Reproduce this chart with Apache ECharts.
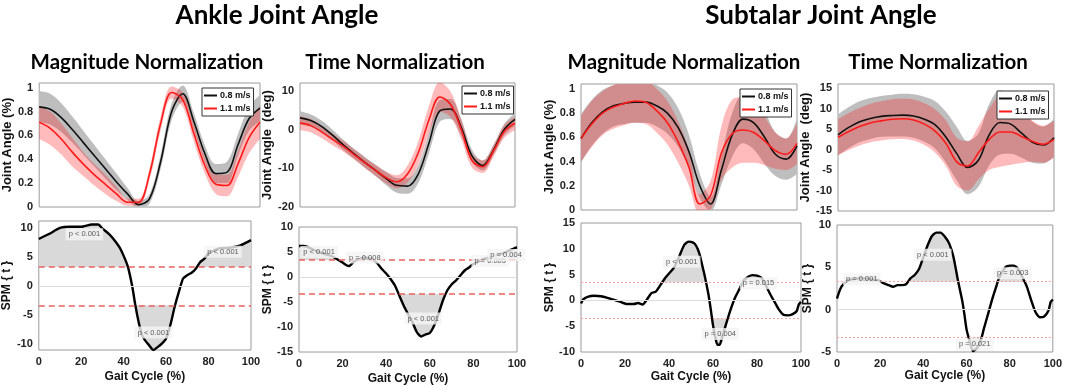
<!DOCTYPE html>
<html>
<head>
<meta charset="utf-8">
<script src="https://cdn.jsdelivr.net/npm/echarts@6/dist/echarts.min.js"></script>
<style>
html, body { margin: 0; padding: 0; background: #fff; }
#main { width: 1065px; height: 387px; }
</style>
</head>
<body>
<div id="main"></div>
<script>
// gait cycle (%) sampling of the mean / SD curves
const gaitX = [0, 5, 10, 15, 20, 25, 30, 35, 40, 45, 50, 55, 60, 65, 70, 75, 80, 85, 90, 95, 100];

// ankle, magnitude normalization (0.8 m/s = slow, 1.1 m/s = fast)
const ankleMagSlow   = [0.84, 0.82, 0.75, 0.65, 0.54, 0.43, 0.32, 0.21, 0.11, 0.02, 0.07, 0.38, 0.80, 0.95, 0.72, 0.45, 0.28, 0.29, 0.52, 0.74, 0.83];
const ankleMagSlowSd = [0.13, 0.13, 0.12, 0.11, 0.10, 0.09, 0.08, 0.07, 0.05, 0.03, 0.04, 0.06, 0.07, 0.07, 0.07, 0.07, 0.08, 0.09, 0.09, 0.10, 0.11];
const ankleMagFast   = [0.71, 0.66, 0.57, 0.46, 0.36, 0.27, 0.19, 0.11, 0.04, 0.04, 0.28, 0.70, 0.96, 0.90, 0.62, 0.35, 0.19, 0.18, 0.36, 0.58, 0.71];
const ankleMagFastSd = [0.14, 0.14, 0.13, 0.12, 0.10, 0.09, 0.08, 0.06, 0.03, 0.03, 0.05, 0.06, 0.05, 0.06, 0.07, 0.07, 0.08, 0.09, 0.11, 0.13, 0.14];

// ankle, time normalization (deg)
const ankleTimeSlow   = [3.0, 2.3, 0.8, -1.4, -3.9, -6.2, -8.4, -10.5, -12.6, -14.4, -14.6, -11.5, -3.5, 4.8, 5.3, 0.5, -6.8, -9.3, -5.3, 0.0, 2.6];
const ankleTimeSlowSd = [1.7, 1.6, 1.5, 1.4, 1.3, 1.3, 1.4, 1.5, 1.7, 1.9, 2.0, 2.3, 2.6, 2.8, 2.6, 2.2, 1.6, 1.3, 1.3, 1.5, 1.6];
const ankleTimeFast   = [1.7, 1.0, -0.6, -2.5, -4.3, -6.4, -8.5, -10.5, -12.4, -13.5, -11.5, -6.0, 2.5, 8.4, 6.5, 0.0, -8.0, -9.6, -5.5, -0.5, 1.6];
const ankleTimeFastSd = [1.8, 1.7, 1.6, 1.5, 1.4, 1.3, 1.3, 1.4, 1.5, 1.7, 2.2, 3.0, 3.6, 3.8, 3.3, 2.5, 1.8, 1.6, 1.5, 1.6, 1.7];

// subtalar, magnitude normalization
const subMagSlow   = [0.59, 0.72, 0.81, 0.86, 0.88, 0.89, 0.89, 0.86, 0.80, 0.68, 0.48, 0.20, 0.05, 0.33, 0.62, 0.75, 0.72, 0.60, 0.46, 0.42, 0.53];
const subMagSlowSd = [0.20, 0.19, 0.18, 0.17, 0.17, 0.17, 0.17, 0.17, 0.17, 0.16, 0.14, 0.10, 0.06, 0.12, 0.18, 0.20, 0.22, 0.22, 0.18, 0.17, 0.23];
const subMagFast   = [0.59, 0.71, 0.80, 0.85, 0.88, 0.90, 0.89, 0.82, 0.72, 0.56, 0.35, 0.05, 0.12, 0.47, 0.63, 0.66, 0.64, 0.57, 0.49, 0.46, 0.55];
const subMagFastSd = [0.19, 0.19, 0.18, 0.18, 0.18, 0.18, 0.18, 0.18, 0.18, 0.17, 0.15, 0.08, 0.12, 0.22, 0.28, 0.27, 0.25, 0.20, 0.15, 0.13, 0.17];

// subtalar, time normalization (deg)
const subTimeSlow   = [3.6, 5.4, 6.8, 7.6, 8.1, 8.3, 8.4, 8.2, 7.4, 6.0, 3.0, -1.0, -4.4, -2.6, 3.6, 6.6, 6.2, 4.0, 1.8, 1.1, 2.9];
const subTimeSlowSd = [5.0, 5.0, 5.0, 5.0, 5.0, 5.1, 5.2, 5.3, 5.5, 5.8, 6.2, 6.5, 6.5, 6.5, 7.5, 7.8, 7.2, 6.0, 5.0, 4.5, 4.6];
const subTimeFast   = [3.0, 4.4, 5.6, 6.5, 7.0, 7.4, 7.5, 7.2, 6.2, 4.5, 1.5, -3.0, -4.0, -0.8, 2.5, 4.3, 4.3, 3.2, 2.0, 1.3, 2.5];
const subTimeFastSd = [4.4, 4.5, 4.6, 4.7, 4.8, 4.9, 4.9, 5.0, 5.1, 5.3, 5.6, 5.9, 6.0, 6.5, 7.5, 8.5, 8.0, 6.5, 5.0, 4.5, 4.5];

// SPM {t} curves
const spmAnkleMagX = [0, 5, 10, 15, 20, 25, 28, 30, 33, 35, 38, 40, 42, 44, 45.5, 47, 48.5, 50, 52, 54, 56, 58, 60, 62, 64, 66, 68, 70, 72, 74, 76, 78, 80, 85, 90, 95, 100];
const spmAnkleMagT = [8.1, 9.0, 10.0, 10.2, 10.2, 10.6, 10.6, 9.9, 9.0, 8.2, 6.7, 5.2, 3.3, 0.0, -3.3, -6.1, -8.3, -9.3, -10.2, -11.0, -10.5, -9.9, -9.0, -6.7, -3.6, -1.0, 1.3, 1.9, 2.3, 3.0, 4.1, 4.7, 5.6, 6.5, 6.6, 7.0, 7.9];

const spmAnkleTimeX = [0, 2, 4, 6, 8, 10, 12, 15, 18, 20, 22, 23, 25, 28, 30, 32, 34, 36, 38, 40, 42, 44, 46, 48, 50, 52, 54, 56, 58, 60, 62, 64, 66, 68, 70, 72, 74, 76, 78, 80, 85, 90, 95, 99, 100];
const spmAnkleTimeT = [6.2, 6.2, 6.0, 5.6, 5.2, 4.9, 4.6, 4.2, 3.4, 2.9, 2.3, 2.2, 3.0, 3.7, 3.9, 3.8, 3.4, 2.7, 1.6, 0.7, -0.4, -1.7, -3.7, -5.7, -7.4, -9.0, -11.0, -11.9, -11.5, -11.2, -9.7, -7.4, -4.7, -2.7, -1.5, -0.7, 0.3, 1.3, 1.9, 2.6, 3.6, 4.2, 5.0, 5.8, 5.9];

const spmSubMagX = [0, 1, 3, 6, 9, 12, 15, 18, 21, 24, 26, 28, 30, 32, 34, 36, 38, 40, 42, 44, 45, 47, 49, 51, 52, 53, 54, 55, 56, 57, 58, 59, 60, 61, 62, 63, 64, 66, 68, 70, 72, 74, 76, 78, 80, 82, 84, 86, 88, 90, 92, 94, 96, 98, 99, 100];
const spmSubMagT = [-0.6, 0.2, 0.7, 0.9, 0.8, 0.5, 0.1, -0.3, -0.7, -0.7, -0.5, -0.8, 0.2, 1.4, 1.7, 2.9, 4.2, 5.2, 6.2, 7.9, 8.9, 10.8, 11.4, 11.2, 10.8, 10.0, 8.8, 7.0, 5.2, 3.2, 1.0, -1.8, -4.8, -7.1, -8.6, -8.6, -7.4, -4.5, -1.8, 0.5, 2.2, 3.9, 4.6, 4.9, 4.8, 4.4, 2.9, 1.2, -0.3, -1.8, -2.8, -2.9, -2.7, -2.1, -0.8, -0.3];

const spmSubTimeX = [0, 1, 2, 4, 5, 7, 10, 13, 16, 19, 21, 24, 26, 28, 30, 32, 34, 36, 38, 40, 42, 44, 46, 48, 50, 52, 54, 56, 58, 59, 60, 61, 63, 65, 67, 68, 70, 72, 74, 75, 78, 80, 82, 84, 86, 88, 90, 92, 94, 96, 98, 99, 100];
const spmSubTimeT = [1.3, 2.1, 2.7, 3.3, 3.5, 3.6, 3.7, 3.7, 3.6, 3.5, 3.2, 2.9, 2.7, 2.9, 2.9, 3.0, 3.7, 4.1, 4.8, 6.2, 7.6, 8.7, 9.1, 9.1, 8.6, 7.8, 6.2, 3.5, 1.1, -0.5, -2.3, -3.3, -4.9, -4.5, -3.3, -2.3, -0.5, 1.3, 2.9, 3.7, 5.0, 5.2, 5.2, 4.8, 3.8, 2.7, 1.1, -0.3, -0.9, -0.8, -0.1, 0.9, 1.2];

// critical thresholds
const spmThresh = [3.3, 3.4, 3.5, 3.3];

// p-value annotations [x, t, text]
const spmAnkleMagLabels  = [[21.5, 8.9, 'p < 0.001'], [54, -8.0, 'p < 0.001'], [86.8, 5.9, 'p < 0.001']];
const spmAnkleTimeLabels = [[9.2, 5.0, 'p < 0.001'], [30.2, 3.9, 'p = 0.008'], [57, -8.3, 'p < 0.001'], [87.7, 3.2, 'p = 0.005'], [95, 4.4, 'p = 0.004']];
const spmSubMagLabels    = [[45.8, 7.5, 'p < 0.001'], [63.3, -6.5, 'p = 0.004'], [80.7, 3.3, 'p = 0.015']];
const spmSubTimeLabels   = [[11.5, 3.6, 'p = 0.001'], [44.4, 6.5, 'p < 0.001'], [63.8, -4.1, 'p = 0.021'], [81.4, 4.3, 'p = 0.003']];

const FONT = "'Liberation Sans Narrow','Liberation Sans',Arial,sans-serif";
const SMOOTH = 0.35;
const SLOW = '0.8 m/s', FAST = '1.1 m/s';

const topSets = [
  { slow: ankleMagSlow, slowSd: ankleMagSlowSd, fast: ankleMagFast, fastSd: ankleMagFastSd },
  { slow: ankleTimeSlow, slowSd: ankleTimeSlowSd, fast: ankleTimeFast, fastSd: ankleTimeFastSd },
  { slow: subMagSlow, slowSd: subMagSlowSd, fast: subMagFast, fastSd: subMagFastSd },
  { slow: subTimeSlow, slowSd: subTimeSlowSd, fast: subTimeFast, fastSd: subTimeFastSd }
];
const topAxes = [
  { min: 0, max: 1.04, ticks: [0, 0.2, 0.4, 0.6, 0.8, 1], name: 'Joint Angle (%)', gap: 20 },
  { min: -20, max: 12, ticks: [-20, -10, 0, 10], name: 'Joint Angle  (deg)', gap: 21 },
  { min: 0, max: 1.04, ticks: [0, 0.2, 0.4, 0.6, 0.8, 1], name: 'Joint Angle (%)', gap: 19 },
  { min: -15, max: 16, ticks: [-15, -10, -5, 0, 5, 10, 15], name: 'Joint Angle  (deg)', gap: 18 }
];
const spmSets = [
  { x: spmAnkleMagX, t: spmAnkleMagT, labels: spmAnkleMagLabels, min: -11, max: 11.2, ticks: [-10, -5, 0, 5, 10], dashed: true, yGap: 14, xGap: 21 },
  { x: spmAnkleTimeX, t: spmAnkleTimeT, labels: spmAnkleTimeLabels, min: -15, max: 10, ticks: [-15, -10, -5, 0, 5, 10], dashed: true, yGap: 15, xGap: 21 },
  { x: spmSubMagX, t: spmSubMagT, labels: spmSubMagLabels, min: -10, max: 15, ticks: [-10, -5, 0, 5, 10, 15], dashed: false, yGap: 18, xGap: 19 },
  { x: spmSubTimeX, t: spmSubTimeT, labels: spmSubTimeLabels, min: -5, max: 10, ticks: [-5, 0, 5, 10], dashed: false, yGap: 23, xGap: 17 }
];

const grids = [
  { left: 36, top: 83, width: 224, height: 124 },
  { left: 300, top: 83, width: 215, height: 124 },
  { left: 581, top: 84, width: 216, height: 126 },
  { left: 838, top: 84, width: 216, height: 127 },
  { left: 36, top: 221, width: 215, height: 129 },
  { left: 299, top: 227, width: 218, height: 125 },
  { left: 581, top: 223, width: 220, height: 129 },
  { left: 837, top: 225, width: 219, height: 127 }
];
const legendPos = [[202, 88], [462, 86], [740, 89], [997, 91]];

const labelStyle = { fontFamily: FONT, fontWeight: 'bold', fontSize: 11, color: '#222' };
const nameStyle = { fontFamily: FONT, fontWeight: 'bold', fontSize: 13, color: '#111' };

const xAxes = [], yAxes = [], series = [], legends = [];

// top row: mean +- SD bands
topSets.forEach(function (set, i) {
  xAxes.push({
    type: 'category', gridIndex: i, data: gaitX, boundaryGap: false,
    axisLine: { show: false }, axisTick: { show: false }, axisLabel: { show: false }, splitLine: { show: false }
  });
  const ax = topAxes[i];
  yAxes.push({
    type: 'value', gridIndex: i, min: ax.min, max: ax.max,
    name: ax.name, nameLocation: 'middle', nameRotate: 90, nameGap: ax.gap, nameTextStyle: nameStyle,
    axisLine: { show: false }, axisTick: { show: false }, splitLine: { show: false },
    axisLabel: Object.assign({ customValues: ax.ticks, margin: 6 }, labelStyle)
  });
  series.push.apply(series, bandSeries(i, 'slow' + i, set.slow, set.slowSd, '#bebebe'));
  series.push.apply(series, bandSeries(i, 'fast' + i, set.fast, set.fastSd, 'rgba(255,30,30,0.3)'));
  series.push(meanSeries(i, SLOW, set.slow, '#111'));
  series.push(meanSeries(i, FAST, set.fast, '#ff1a1a'));
  legends.push({
    data: [SLOW, FAST], left: legendPos[i][0], top: legendPos[i][1], orient: 'vertical',
    icon: 'rect', itemWidth: 13, itemHeight: 2, itemGap: 4, padding: [3, 3, 3, 2],
    borderColor: '#333', borderWidth: 1, backgroundColor: '#fff',
    textStyle: { fontFamily: FONT, fontWeight: 'bold', fontSize: 9, color: '#111', padding: [0, 0, 0, -2] }
  });
});

// bottom row: SPM {t}
spmSets.forEach(function (set, k) {
  const i = k + 4;
  const thr = spmThresh[k];
  xAxes.push({
    type: 'value', gridIndex: i, min: 0, max: 100, interval: 20,
    name: 'Gait Cycle (%)', nameLocation: 'middle', nameGap: set.xGap, nameTextStyle: Object.assign({}, nameStyle, { fontSize: 12 }),
    axisLine: { show: false }, axisTick: { show: false }, splitLine: { show: false },
    axisLabel: Object.assign({ margin: 6 }, labelStyle)
  });
  yAxes.push({
    type: 'value', gridIndex: i, min: set.min, max: set.max,
    name: 'SPM { t }', nameLocation: 'middle', nameRotate: 90, nameGap: set.yGap, nameTextStyle: Object.assign({}, nameStyle, { fontSize: 12 }),
    axisLine: { show: false }, axisTick: { show: false }, splitLine: { show: false },
    axisLabel: Object.assign({ customValues: set.ticks, margin: 6 }, labelStyle)
  });
  const pts = set.x.map(function (x, j) { return [x, set.t[j]]; });
  const thrStyle = set.dashed
    ? { color: '#e8615f', width: 1.5, type: [6, 4] }
    : { color: '#f7a3a3', width: 1, type: [2, 2] };
  series.push({
    type: 'custom', xAxisIndex: i, yAxisIndex: i, silent: true,
    data: [[0, 0]],
    renderItem: shadeRender(set.x, set.t, thr),
    markLine: {
      silent: true, symbol: ['none', 'none'], label: { show: false },
      data: [
        { yAxis: 0, lineStyle: { color: '#dddddd', width: 1, type: 'solid' } },
        { yAxis: thr, lineStyle: thrStyle },
        { yAxis: -thr, lineStyle: thrStyle }
      ]
    }
  });
  series.push({
    type: 'line', xAxisIndex: i, yAxisIndex: i, data: pts, smooth: 0.2, symbol: 'none', silent: true,
    lineStyle: { color: '#000', width: 2.4 }, itemStyle: { color: '#000' }
  });
  series.push({
    type: 'scatter', xAxisIndex: i, yAxisIndex: i, data: set.labels, symbolSize: 1, silent: true, z: 5,
    itemStyle: { color: 'rgba(0,0,0,0)' },
    label: {
      show: true, position: 'inside', formatter: function (p) { return p.data[2]; },
      fontFamily: FONT, fontSize: 7.5, color: '#333', backgroundColor: '#f4f4f4', padding: [2, 3]
    }
  });
});

function bandSeries(idx, key, mean, sd, color) {
  const lower = mean.map(function (m, j) { return +(m - sd[j]).toFixed(3); });
  const span = sd.map(function (s) { return +(2 * s).toFixed(3); });
  const common = {
    type: 'line', xAxisIndex: idx, yAxisIndex: idx, stack: key, stackStrategy: 'all',
    smooth: SMOOTH, symbol: 'none', silent: true, lineStyle: { width: 0, opacity: 0 }
  };
  return [
    Object.assign({}, common, { data: lower }),
    Object.assign({}, common, { data: span, areaStyle: { color: color, opacity: 1 } })
  ];
}

function meanSeries(idx, name, data, color) {
  return {
    type: 'line', name: name, xAxisIndex: idx, yAxisIndex: idx, data: data, smooth: SMOOTH,
    symbol: 'none', silent: true, lineStyle: { color: color, width: 1.6 }, itemStyle: { color: color }
  };
}

// grey fill between the SPM curve and the threshold where it is exceeded
function shadeRender(xs, ys, thr) {
  return function (params, api) {
    if (params.dataIndex !== 0) return null;
    const polys = [];
    [1, -1].forEach(function (dir) {
      const lim = dir * thr;
      let cur = null;
      for (let j = 0; j < xs.length; j++) {
        const over = dir * (ys[j] - lim) > 0;
        if (j > 0) {
          const prevOver = dir * (ys[j - 1] - lim) > 0;
          if (over !== prevOver) {
            const f = (lim - ys[j - 1]) / (ys[j] - ys[j - 1]);
            const cx = xs[j - 1] + f * (xs[j] - xs[j - 1]);
            if (over) cur = [[cx, lim]];
            else { cur.push([cx, lim]); polys.push(cur); cur = null; }
          }
        } else if (over) {
          cur = [[xs[0], lim]];
        }
        if (over) cur.push([xs[j], ys[j]]);
      }
      if (cur) { cur.push([xs[xs.length - 1], lim]); polys.push(cur); }
    });
    return {
      type: 'group',
      children: polys.map(function (p) {
        return { type: 'polygon', shape: { points: p.map(function (q) { return api.coord(q); }) }, style: { fill: '#d9d9d9' } };
      })
    };
  };
}

function heading(text, x, y, size) {
  return {
    type: 'text', x: x, y: y, silent: true,
    style: { text: text, font: 'bold ' + size + 'px Lato', fill: '#000', align: 'center', verticalAlign: 'middle', textAlign: 'center', textVerticalAlign: 'middle' }
  };
}

const option = {
  backgroundColor: '#fff',
  animation: false,
  grid: grids.map(function (g) { return Object.assign({ show: true, borderColor: '#9a9a9a', borderWidth: 1, backgroundColor: 'transparent' }, g); }),
  xAxis: xAxes,
  yAxis: yAxes,
  legend: legends,
  series: series,
  graphic: [
    heading('Ankle Joint Angle', 277, 16, 26),
    heading('Subtalar Joint Angle', 821, 16, 26),
    heading('Magnitude Normalization', 147, 62, 20.5),
    heading('Time Normalization', 395, 62, 20.5),
    heading('Magnitude Normalization', 684, 62, 20.5),
    heading('Time Normalization', 938, 62, 20.5)
  ]
};

const chart = echarts.init(document.getElementById('main'));
chart.setOption(option);
window.addEventListener('resize', chart.resize);
</script>
</body>
</html>
